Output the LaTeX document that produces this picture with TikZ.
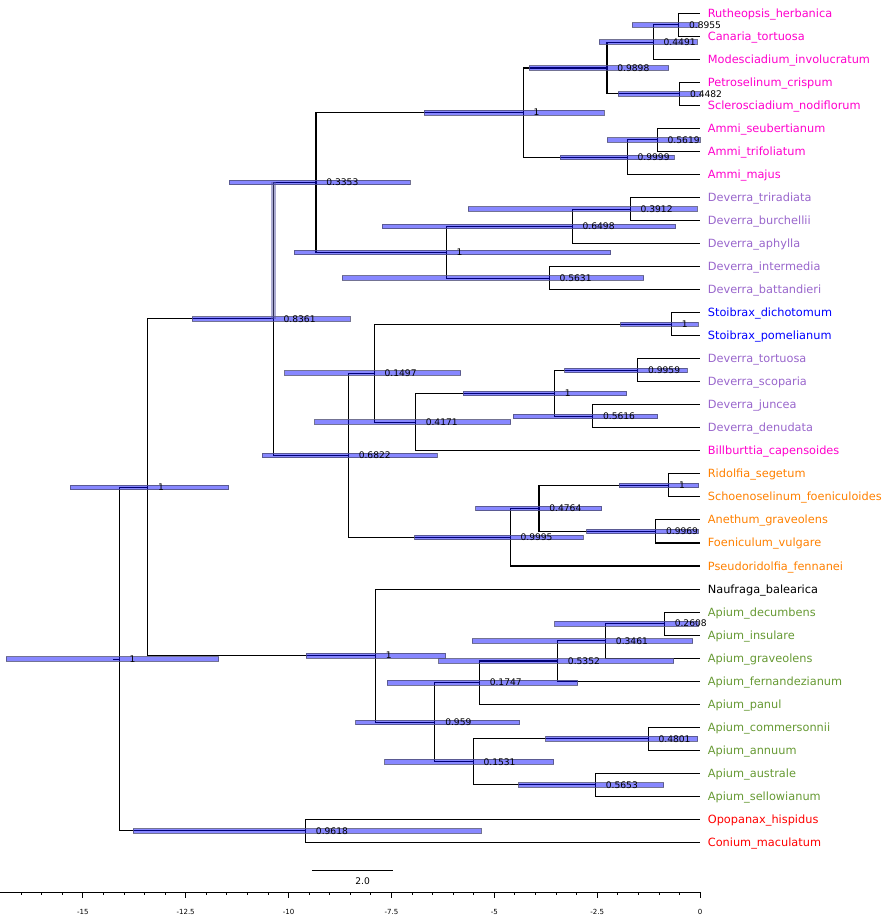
\documentclass[tikz,border=0pt]{standalone}
\usepackage{fontspec}
\setmainfont{DejaVu Sans}
\usepackage{tikz}

\definecolor{pinkc}{RGB}{255,0,204}
\definecolor{purplec}{RGB}{153,102,204}
\definecolor{bluec}{RGB}{0,0,255}
\definecolor{orangec}{RGB}{255,128,0}
\definecolor{greenc}{RGB}{102,153,51}
\definecolor{redc}{RGB}{255,0,0}
\definecolor{hpdedge}{RGB}{80,80,120}

% node / x / y / bar left / bar right / posterior
\def\hpdlist{nA/678.7/24.82/632/698/0.8955, nB/653.3/42.09/599/697/0.4491,
  nC/679.7/93.9/618/700/0.4482, nD/607/68.0/529.3/668.7/0.9898,
  nE/657.3/139.97/607/700/0.5619, nF/627.3/157.24/560.3/674.3/0.9999,
  nG/523.3/112.62/424/604.3/1, nH/630.3/209.06/468.3/697.3/0.3912,
  nI/572.3/226.33/382.3/675.7/0.6498, nJ/549.3/278.15/342.3/643.7/0.5631,
  nK/446.3/252.24/294.3/610.7/1, nL/316/182.43/229.3/410.3/0.3353,
  nM/671.5/324.2/620.7/698/1, nN/637.8/370.27/564.6/687/0.9959,
  nO/592.7/416.33/513.4/657.7/0.5616, nP/554.5/393.3/463.4/626.8/1,
  nQ/415.4/422.09/314.6/510.6/0.4171, nR/374.3/373.15/284.6/460.6/0.1497,
  nS/668.7/485.42/619/698.8/1, nT/655.7/531.48/586.6/698/0.9969,
  nU/539/508.45/475.6/601.6/0.4764, nV/510.2/537.24/414.6/583/0.9995,
  nW/348.4/455.2/262.2/437.4/0.6822, nX/273.3/318.82/192.3/350.4/0.8361,
  nY/664.4/623.6/554.5/698/0.2608, nZ/605.6/640.87/472.4/692.7/0.3461,
  nAA/557.6/661.02/438.7/673.7/0.5352, nAB/479.4/682.61/387.2/577.7/0.1747,
  nAC/648.2/738.75/545.6/697.7/0.4801, nAD/595.5/784.81/518.5/663.7/0.5653,
  nAE/473.2/761.78/384.5/553.7/0.1531, nAF/434.9/722.2/355.5/519.6/0.959,
  nAG/375.5/655.63/306/445.7/1, nAH/147.7/487.23/70.3/228.7/1,
  nAI/305.6/830.87/133/481/0.9618, root/119.3/659.05/6.3/218.7/1}

\begin{document}
\begin{tikzpicture}[
    x=0.02cm, y=-0.02cm,
    branch/.style={line width=0.6pt},
    hpd/.style={fill=bluec, fill opacity=0.47, draw=hpdedge, draw opacity=0.8, line width=0.4pt},
    tip/.style={anchor=base west, xshift=0.15cm, yshift=-0.08cm, inner sep=0pt, font=\fontsize{6.45}{7}\selectfont},
    prob/.style={anchor=west, xshift=0.2cm, inner sep=0pt, font=\fontsize{5.2}{6}\selectfont},
    axlab/.style={inner sep=0pt, font=\fontsize{4}{5}\selectfont}
  ]
  \useasboundingbox (0,0) rectangle (887,918);

  % Internal nodes
  \foreach \n/\x/\y/\a/\b/\p in \hpdlist
    \coordinate (\n) at (\x,\y);
  \coordinate (stem) at (113.3,659.05);

  % Tips
  \foreach \name/\col [count=\i] in {
      Rutheopsis\_herbanica/pinkc, Canaria\_tortuosa/pinkc,
      Modesciadium\_involucratum/pinkc, Petroselinum\_crispum/pinkc,
      Sclerosciadium\_nodiflorum/pinkc, Ammi\_seubertianum/pinkc,
      Ammi\_trifoliatum/pinkc, Ammi\_majus/pinkc,
      Deverra\_triradiata/purplec, Deverra\_burchellii/purplec,
      Deverra\_aphylla/purplec, Deverra\_intermedia/purplec,
      Deverra\_battandieri/purplec, Stoibrax\_dichotomum/bluec,
      Stoibrax\_pomelianum/bluec, Deverra\_tortuosa/purplec,
      Deverra\_scoparia/purplec, Deverra\_juncea/purplec,
      Deverra\_denudata/purplec, Billburttia\_capensoides/pinkc,
      Ridolfia\_segetum/orangec, Schoenoselinum\_foeniculoides/orangec,
      Anethum\_graveolens/orangec, Foeniculum\_vulgare/orangec,
      Pseudoridolfia\_fennanei/orangec, Naufraga\_balearica/black,
      Apium\_decumbens/greenc, Apium\_insulare/greenc,
      Apium\_graveolens/greenc, Apium\_fernandezianum/greenc,
      Apium\_panul/greenc, Apium\_commersonnii/greenc,
      Apium\_annuum/greenc, Apium\_australe/greenc,
      Apium\_sellowianum/greenc, Opopanax\_hispidus/redc,
      Conium\_maculatum/redc}
  {
    \coordinate (t\i) at (700,{13.3+(\i-1)*23.03});
    \node[tip, text=\col] (l\i) at (t\i) {\name};
  }

  % Branches
  \foreach \p/\c in {nA/t1, nA/t2, nB/nA, nB/t3, nC/t4, nC/t5, nD/nB, nD/nC,
      nE/t6, nE/t7, nF/nE, nF/t8, nG/nD, nG/nF, nH/t9, nH/t10, nI/nH, nI/t11,
      nJ/t12, nJ/t13, nK/nI, nK/nJ, nL/nG, nL/nK, nM/t14, nM/t15, nN/t16,
      nN/t17, nO/t18, nO/t19, nP/nN, nP/nO, nQ/nP, nQ/t20, nR/nM, nR/nQ,
      nS/t21, nS/t22, nT/t23, nT/t24, nU/nS, nU/nT, nV/nU, nV/t25, nW/nR,
      nW/nV, nX/nL, nX/nW, nY/t27, nY/t28, nZ/nY, nZ/t29, nAA/nZ, nAA/t30,
      nAB/nAA, nAB/t31, nAC/t32, nAC/t33, nAD/t34, nAD/t35, nAE/nAC, nAE/nAD,
      nAF/nAB, nAF/nAE, nAG/t26, nAG/nAF, nAH/nX, nAH/nAG, nAI/t36, nAI/t37,
      root/nAH, root/nAI}
    \draw[branch] (\p) |- (\c);
  \draw[branch] (stem) -- (root);

  % Height bars
  \foreach \n/\x/\y/\a/\b/\p in \hpdlist
    \draw[hpd] (\a,\y-2.3) rectangle (\b,\y+2.3);
  \fill[gray!70!blue, opacity=0.5] (271,182.43) rectangle (275.7,318.82);

  % Posterior labels
  \foreach \n/\x/\y/\a/\b/\p in \hpdlist
    \node[prob] (p\n) at (\n) {\p};

  % Scale bar
  \coordinate (sbL) at (311.8,870.3);
  \coordinate (sbR) at (393.3,870.3);
  \draw[branch] (sbL) -- (sbR);
  \node[prob, anchor=center, xshift=0cm] (sbl) at (352.6,881) {2.0};

  % Time axis
  \draw[line width=0.5pt] (0,892.3) -- (700,892.3);
  \foreach \t in {-16.5,-16,...,0}
    \draw[line width=0.4pt] ({700+41.15*\t},892.3) -- ++(0,3);
  \foreach \t in {-15,-12.5,-10,-7.5,-5,-2.5,0} {
    \draw[line width=0.4pt] ({700+41.15*\t},892.3) -- ++(0,5.5);
    \node[axlab] at ({700+41.15*\t},911.7) {\t};
  }
\end{tikzpicture}
\end{document}
